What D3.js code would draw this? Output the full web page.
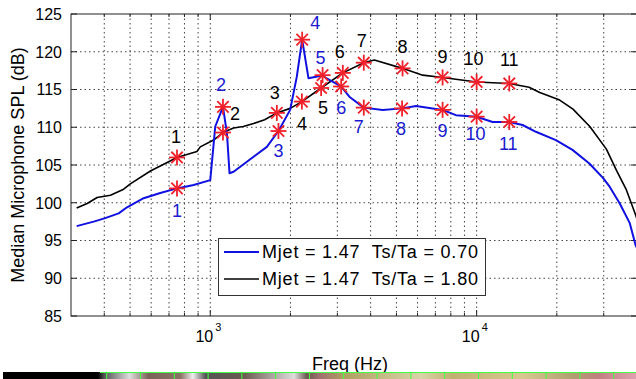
<!DOCTYPE html>
<html>
<head>
<meta charset="utf-8">
<script src="https://cdn.jsdelivr.net/npm/d3@7"></script>
<style>
  body { margin: 0; background: #fff; }
  svg { display: block; font-family: "Liberation Sans", Arial, sans-serif; }
</style>
</head>
<body>
<div id="chart"></div>
<script>
// spectra (Hz, dB)
var blueFreq = [315, 365, 398, 453, 487, 562, 649, 750, 866, 1000, 1044, 1116, 1155, 1181, 1223, 1454, 1631, 1803, 1995, 2113, 2213, 2337, 2498, 2640, 2723, 3100, 3327, 3770, 4441, 5250, 5924, 7450, 8360, 10000, 11480, 13260, 14880, 16690, 19840, 22900, 26500, 29800, 31620, 34460, 37580, 39500, 40000];
var blueSpl  = [96.9, 97.5, 97.9, 98.6, 99.4, 100.6, 101.3, 101.9, 102.35, 103.0, 110.1, 112.7, 109.2, 103.9, 104.1, 106.1, 107.4, 109.5, 112.3, 116.7, 121.6, 116.5, 116.7, 116.9, 116.5, 115.4, 114.05, 112.6, 112.3, 112.5, 112.8, 112.3, 111.6, 111.4, 110.7, 110.7, 110.3, 109.4, 108.3, 107.0, 105.2, 103.3, 102.1, 99.9, 97.3, 94.4, 94.0];

var blackFreq = [315, 345, 376, 422, 473, 501, 596, 750, 891, 917, 1029, 1116, 1223, 1330, 1454, 1600, 1778, 1995, 2208, 2607, 3145, 3770, 4130, 5270, 6270, 7450, 10000, 13260, 15740, 17260, 20500, 23000, 26600, 30700, 33500, 36500, 39500, 40000];
var blackSpl  = [99.3, 99.9, 100.7, 101.0, 101.8, 102.5, 104.2, 106.0, 106.8, 107.4, 108.3, 109.3, 109.9, 110.1, 110.5, 111.0, 111.9, 112.5, 113.4, 115.2, 117.2, 118.55, 118.9, 117.8, 116.9, 116.6, 116.0, 115.8, 115.3, 114.6, 113.6, 112.4, 110.1, 107.1, 104.3, 101.7, 98.4, 97.8];

// numbered peaks
var markNames = ["1", "2", "3", "4", "5", "6", "7", "8", "9", "10", "11"];
var blueMarkFreq = [750, 1116, 1803, 2213, 2640, 3100, 3770, 5250, 7450, 10000, 13260];
var blueMarkSpl  = [101.9, 112.7, 109.5, 121.6, 116.9, 115.4, 112.6, 112.5, 112.3, 111.4, 110.7];
var blackMarkFreq = [750, 1116, 1778, 2208, 2607, 3145, 3770, 5270, 7450, 10000, 13260];
var blackMarkSpl  = [106.0, 109.3, 111.9, 113.4, 115.2, 117.2, 118.55, 117.8, 116.6, 116.0, 115.8];

var yTicks = [85, 90, 95, 100, 105, 110, 115, 120, 125];
var xMajor = [1000, 10000];
var xMinor = [400, 500, 600, 700, 800, 900, 2000, 3000, 4000, 5000, 6000, 7000, 8000, 9000, 20000, 30000];

var legendText = ["Mjet = 1.47  Ts/Ta = 0.70", "Mjet = 1.47  Ts/Ta = 1.80"];

// label placement for the numbers (offsets in px)
var blueLabelDx = [0, -2, 0, 13, -2, 0, -5, -1, 0, -1, -1];
var blueLabelDy = [22, -22, 19, -17, -18, 21, 19, 20, 21, 17, 22];
var blackLabelDx = [-1, 12, -2, 0, 2, -3, -2, 0, 0, -3, 0];
var blackLabelDy = [-21, -19, -20, 22, 20, -21, -22, -22, -21, -23, -24];

var W = 636, H = 379;
var plotL = 71, plotR = 637, plotT = 14, plotB = 316;

var svg = d3.select("#chart").append("svg")
    .attr("width", W)
    .attr("height", H);

var x = d3.scaleLog().domain([300, 40000]).range([plotL, plotR]);
var y = d3.scaleLinear().domain([85, 125]).range([plotB, plotT]);

svg.append("clipPath").attr("id", "plotclip")
    .append("rect")
    .attr("x", plotL).attr("y", plotT)
    .attr("width", plotR - plotL).attr("height", plotB - plotT);

// grid
var grid = svg.append("g");
grid.selectAll("line.vg")
    .data(xMinor.concat(xMajor))
    .enter().append("line")
    .attr("x1", function(d){ return x(d); })
    .attr("x2", function(d){ return x(d); })
    .attr("y1", plotT).attr("y2", plotB)
    .attr("stroke", "#444").attr("stroke-width", 1)
    .attr("stroke-dasharray", "1.5,3");
grid.selectAll("line.hg")
    .data(yTicks.slice(1, -1))
    .enter().append("line")
    .attr("x1", plotL).attr("x2", plotR)
    .attr("y1", function(d){ return y(d); })
    .attr("y2", function(d){ return y(d); })
    .attr("stroke", "#444").attr("stroke-width", 1)
    .attr("stroke-dasharray", "1.5,3");

// axes box + inward ticks
var axisG = svg.append("g").attr("stroke", "#222").attr("stroke-width", 1);
axisG.append("rect")
    .attr("x", plotL).attr("y", plotT)
    .attr("width", plotR - plotL).attr("height", plotB - plotT)
    .attr("fill", "none");
yTicks.forEach(function(t){
    axisG.append("line").attr("x1", plotL).attr("x2", plotL + 6).attr("y1", y(t)).attr("y2", y(t));
    axisG.append("line").attr("x1", plotR).attr("x2", plotR - 6).attr("y1", y(t)).attr("y2", y(t));
});
xMajor.forEach(function(t){
    axisG.append("line").attr("x1", x(t)).attr("x2", x(t)).attr("y1", plotB).attr("y2", plotB - 6);
    axisG.append("line").attr("x1", x(t)).attr("x2", x(t)).attr("y1", plotT).attr("y2", plotT + 6);
});
xMinor.forEach(function(t){
    axisG.append("line").attr("x1", x(t)).attr("x2", x(t)).attr("y1", plotB).attr("y2", plotB - 3);
    axisG.append("line").attr("x1", x(t)).attr("x2", x(t)).attr("y1", plotT).attr("y2", plotT + 3);
});

// tick labels
svg.selectAll("text.ytl")
    .data(yTicks)
    .enter().append("text")
    .attr("x", 62)
    .attr("y", function(d){ return y(d); })
    .attr("dy", "0.36em")
    .attr("text-anchor", "end")
    .attr("font-size", 16)
    .attr("fill", "#000")
    .text(function(d){ return d; });

xMajor.forEach(function(t){
    svg.append("text")
        .attr("x", x(t) - 6)
        .attr("y", 342)
        .attr("text-anchor", "middle")
        .attr("font-size", 16)
        .attr("fill", "#000")
        .text("10");
    svg.append("text")
        .attr("x", x(t) + 5)
        .attr("y", 331)
        .attr("font-size", 11)
        .attr("fill", "#000")
        .text(String(Math.round(Math.log10(t))));
});

svg.append("text")
    .attr("x", 350)
    .attr("y", 370)
    .attr("text-anchor", "middle")
    .attr("font-size", 18)
    .attr("fill", "#000")
    .text("Freq (Hz)");

svg.append("text")
    .attr("transform", "translate(24,165) rotate(-90)")
    .attr("text-anchor", "middle")
    .attr("font-size", 18)
    .attr("fill", "#000")
    .text("Median Microphone SPL (dB)");

// curves
var line = d3.line()
    .x(function(d){ return x(d[0]); })
    .y(function(d){ return y(d[1]); });

var plot = svg.append("g").attr("clip-path", "url(#plotclip)");

plot.append("path")
    .datum(d3.zip(blackFreq, blackSpl))
    .attr("d", line)
    .attr("fill", "none")
    .attr("stroke", "#000")
    .attr("stroke-width", 1.6)
    .attr("stroke-linejoin", "round");

plot.append("path")
    .datum(d3.zip(blueFreq, blueSpl))
    .attr("d", line)
    .attr("fill", "none")
    .attr("stroke", "#1010e0")
    .attr("stroke-width", 2)
    .attr("stroke-linejoin", "round");

// asterisk markers
function star(g, fx, fy) {
    var r = 8, d = 5.7;
    var s = g.append("g").attr("transform", "translate(" + x(fx) + "," + y(fy) + ")")
        .attr("stroke", "#f0202a").attr("stroke-width", 1.8);
    s.append("line").attr("x1", -r).attr("x2", r).attr("y1", 0).attr("y2", 0);
    s.append("line").attr("x1", 0).attr("x2", 0).attr("y1", -r).attr("y2", r);
    s.append("line").attr("x1", -d).attr("x2", d).attr("y1", -d).attr("y2", d);
    s.append("line").attr("x1", -d).attr("x2", d).attr("y1", d).attr("y2", -d);
}

var marks = svg.append("g");
blackMarkFreq.forEach(function(f, i){ star(marks, f, blackMarkSpl[i]); });
blueMarkFreq.forEach(function(f, i){ star(marks, f, blueMarkSpl[i]); });

// numbers
var labels = svg.append("g").attr("font-size", 18).attr("text-anchor", "middle");
markNames.forEach(function(n, i){
    labels.append("text")
        .attr("x", x(blackMarkFreq[i]) + blackLabelDx[i])
        .attr("y", y(blackMarkSpl[i]) + blackLabelDy[i])
        .attr("dy", "0.36em")
        .attr("fill", "#000")
        .text(n);
    labels.append("text")
        .attr("x", x(blueMarkFreq[i]) + blueLabelDx[i])
        .attr("y", y(blueMarkSpl[i]) + blueLabelDy[i])
        .attr("dy", "0.36em")
        .attr("fill", "#1a1ad0")
        .text(n);
});

// legend
var lg = svg.append("g");
lg.append("rect")
    .attr("x", 218.5).attr("y", 238.5)
    .attr("width", 267).attr("height", 57)
    .attr("fill", "#fff").attr("stroke", "#333").attr("stroke-width", 1);
var legColors = ["#1010e0", "#000"];
legendText.forEach(function(t, i){
    var ly = 252 + i * 27;
    lg.append("line")
        .attr("x1", 224).attr("x2", 259)
        .attr("y1", ly).attr("y2", ly)
        .attr("stroke", legColors[i]).attr("stroke-width", i == 0 ? 2 : 1.6);
    lg.append("text")
        .attr("x", 262).attr("y", ly)
        .attr("dy", "0.36em")
        .attr("font-size", 18)
        .attr("textLength", 216)
        .attr("lengthAdjust", "spacing")
        .style("white-space", "pre")
        .attr("fill", "#000")
        .text(t);
});

// photo strip along the bottom edge of the scan
var grad = svg.append("defs").append("linearGradient").attr("id", "strip");
[[0, "#000"], [0.15, "#000"], [0.16, "#555"], [0.2, "#ddd"], [0.23, "#7a6458"], [0.28, "#8a7264"],
 [0.3, "#eee"], [0.32, "#555"], [0.38, "#6a5a50"], [0.46, "#ddd"], [0.48, "#6a5a50"],
 [0.5, "#a07070"], [0.54, "#b0a060"], [0.66, "#d8d4a8"], [0.71, "#c0b070"], [0.82, "#d8c890"],
 [0.9, "#b0a070"], [0.94, "#c08080"], [1, "#e0a0b0"]].forEach(function(s){
    grad.append("stop").attr("offset", s[0]).attr("stop-color", s[1]);
});
svg.append("rect").attr("x", 3).attr("y", 372).attr("width", 633).attr("height", 7).attr("fill", "url(#strip)");
svg.append("line").attr("x1", 100).attr("x2", 636).attr("y1", 372.5).attr("y2", 372.5).attr("stroke", "#4f4").attr("stroke-width", 1);
d3.range(16).forEach(function(k){
    var gx = 106.7 + k * 33.8;
    svg.append("line").attr("x1", gx).attr("x2", gx).attr("y1", 372).attr("y2", 379)
        .attr("stroke", "#4f4").attr("stroke-width", 1);
});
</script>
</body>
</html>
